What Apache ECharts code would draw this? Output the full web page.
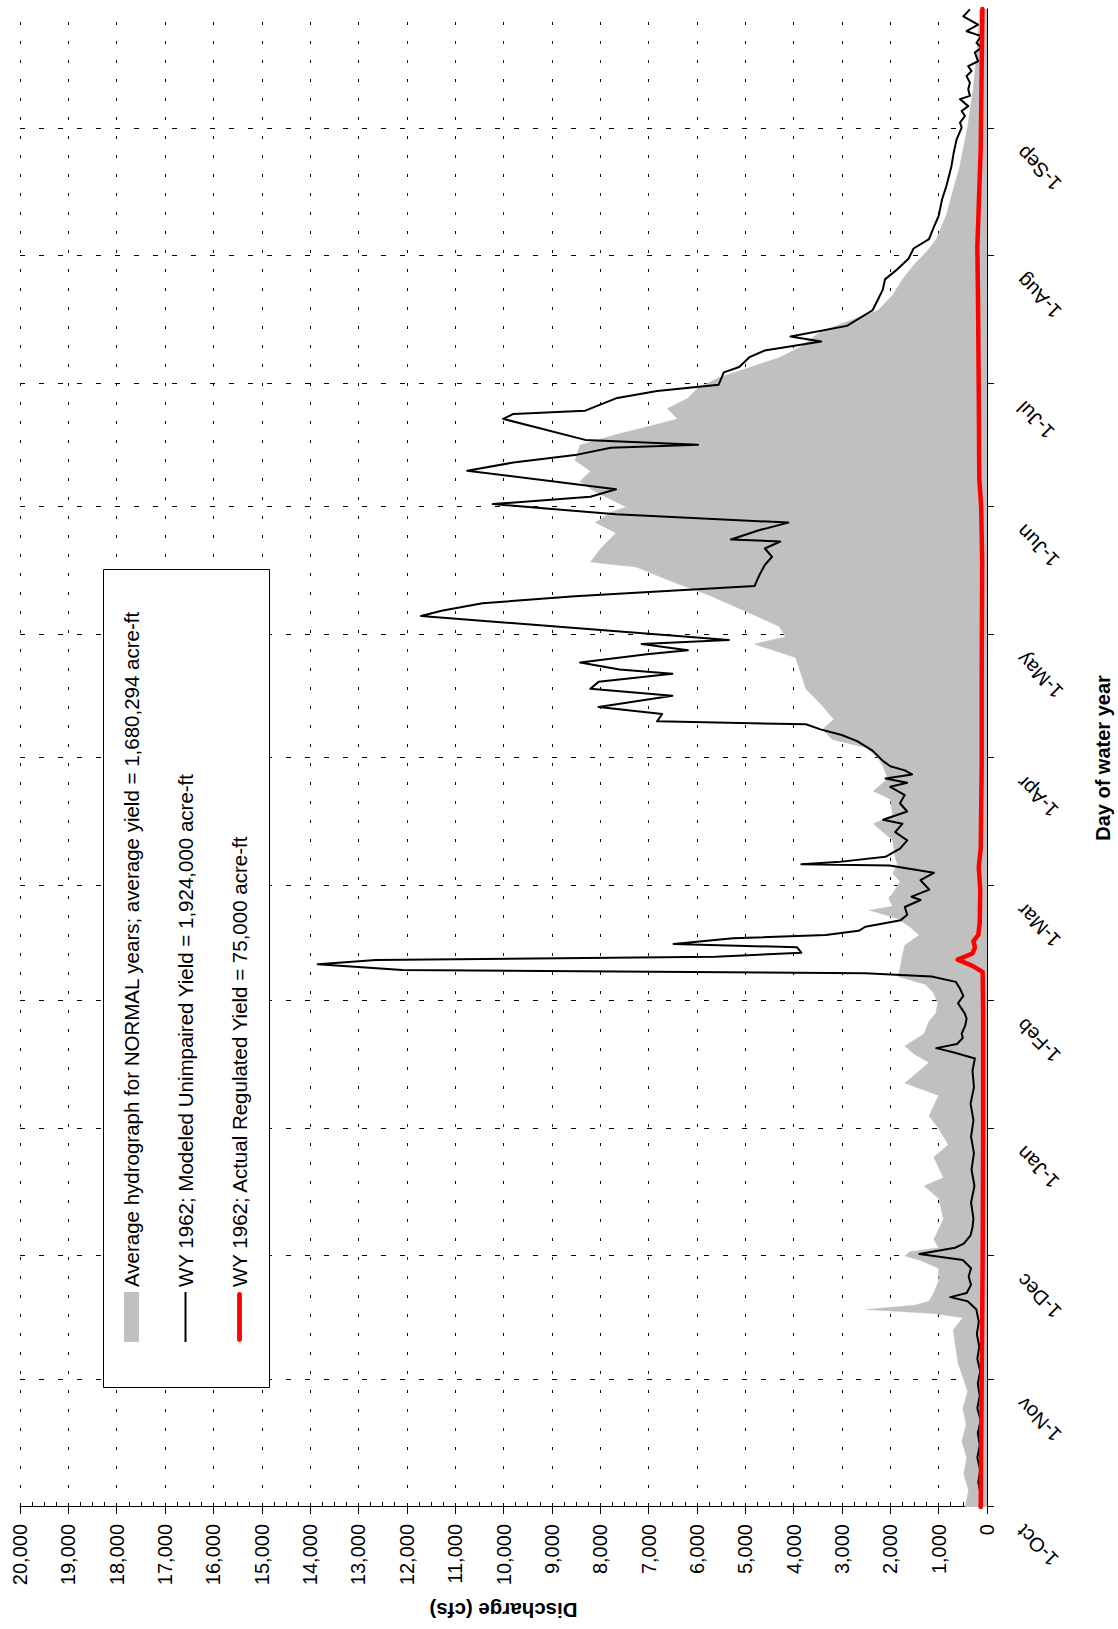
<!DOCTYPE html>
<html>
<head>
<meta charset="utf-8">
<script src="https://cdn.jsdelivr.net/npm/echarts@6/dist/echarts.min.js"></script>
<style>
html,body{margin:0;padding:0;background:#fff;}
#wrap{position:absolute;left:0;top:0;width:1118px;height:1629px;overflow:hidden;background:#fff;}
#chart{position:absolute;left:0;top:0;width:1629px;height:1118px;transform-origin:0 0;transform:translate(0px,1629px) rotate(-90deg);}
</style>
</head>
<body>
<div id="wrap"><div id="chart"></div></div>
<script>
// Month tick positions (day of water year) and labels
const monthDays = [0, 31, 61, 92, 123, 151, 182, 212, 243, 273, 304, 335];
const monthLabels = ['1-Oct', '1-Nov', '1-Dec', '1-Jan', '1-Feb', '1-Mar', '1-Apr', '1-May', '1-Jun', '1-Jul', '1-Aug', '1-Sep'];

// Average hydrograph for NORMAL years (cfs)
const avgDay = [0,4,8,12,16,20,24,28,31,35,39,43,46,47,48,49,50,52,55,58,60,61,62,63,65,70,75,78,80,85,88,92,95,100,103,105,108,110,112,115,118,120,122.4,125,127,128.9,131.4,134,136.5,139,141,143,145,146,147.8,150,152,154,156,158,162,166,168,172,174,177,180,182,184.5,186.5,188.9,191.4,195,198.8,202.6,206.4,209.7,211.4,214,217.8,221.6,225.3,228.4,229.6,232.9,236.7,239.2,241.7,243,246.7,249.2,251.7,254.3,258,260.6,263.1,264.4,266.9,269.4,271.9,274.4,276.9,279.4,281.9,285.7,290.8,294.5,298.3,302,305,308,314,320,326,335.5,345,355,364];
const avgCfs = [450,380,480,420,520,430,500,400,480,600,650,700,500,1100,2500,1500,1200,1100,1000,1000,1400,1700,1600,1000,1100,900,1000,1300,900,1100,800,1000,1200,1000,1700,1500,1200,1500,1700,1300,1200,1060,1020,1110,1280,1840,1790,1750,1700,1400,1600,1850,2430,1950,2030,1900,1800,1950,1850,1900,1950,2350,1950,2000,2350,2050,2150,2250,2500,3200,3400,3170,3430,3750,3850,3960,4810,4170,4300,5020,5760,6610,7250,8200,7990,7670,8100,7780,7460,8100,8420,8200,8520,8420,7670,6820,6400,6610,6190,5980,5550,4910,4280,3850,3430,2250,1950,1750,1500,1250,1050,840,700,560,400,280,200,150];

// WY 1962 Modeled Unimpaired (cfs)
const unDay = [0,3,6,9,12,15,18,21,24,27,30,33,36,39,42,45,48,50,51,52,54,56,58,60,61.5,63,64,66,68,70,74,78,82,86,90,94,98,102,106,109,110.5,111.5,112.5,114,115,117,118.7,120,122.4,124.2,126,127.6,128.9,129.7,130.5,131.9,132.9,133.7,134.7,136,136.8,138.2,139,140,141,142.6,143.9,145.8,147.5,148.3,150,152.3,154.1,155.9,156.2,156.7,158,160,162,164,166,167,169,171,173,175,176,177,178,179,180,181.3,183.8,186.1,187.6,188.9,190.2,190.9,192.7,194.4,197.1,198.8,200.5,202.5,203.5,205.2,207.2,208.2,209.7,210.7,216.5,217.8,219.6,221.3,222.1,223.8,226.6,228.9,230.9,232.9,234.6,235.1,237.4,239.2,241.2,243.7,245.5,247.3,251.8,253.8,255.6,257.4,258.1,259.3,264.4,265.6,266.4,269.4,271.2,272.7,275.7,277,279.4,281,283.2,284.4,287,290.8,293.3,295.8,298.3,300.3,303.3,305.8,308.1,311,313.7,317.7,321,325.8,329,332.4,335.2,336.4,338,339.2,340.4,342.1,342.9,344.5,346.1,347.7,348.9,350.1,351.3,353.4,354.6,355.8,357.4,358.6,360.2,362.2,363.9];
const unCfs = [150,130,180,140,200,150,190,130,200,150,190,140,200,160,210,170,220,400,760,420,330,380,330,500,1400,660,480,340,300,280,330,260,320,270,330,280,340,270,300,250,700,1050,620,500,525,450,422,464,600,490,560,645,1146,2515,12094,13842,12637,5618,3840,3928,6482,5250,3336,2655,2515,1785,1650,1700,1375,1560,1193,1375,1100,2015,3840,3100,2100,1800,1650,1900,1750,2150,1650,1800,1700,2000,1650,2100,1550,1700,2000,2155,2367,2685,3004,3428,3746,6824,6718,8034,6506,8204,8034,6506,7600,8416,7036,6187,7143,5338,11706,11282,10433,8522,7355,4808,4701,4595,4446,4595,4277,5296,4701,4108,7673,10221,8204,7673,10751,9796,8522,7780,5975,8310,10008,9796,8310,7673,6824,5550,5444,5126,4914,4600,3428,4065,2897,2367,2260,2155,2110,1900,1624,1518,1200,1100,1000,930,840,735,690,626,524,558,456,524,388,558,354,388,354,422,320,388,184,252,116,218,116,422,184,490,354];

// WY 1962 Actual Regulated (cfs)
const regDay = [0,30,60,90,120,130,131.5,133,134.5,136,137.5,139,142,150,155.5,160,180,200,230,243,250,270,293,306,330,364];
const regCfs = [130,110,90,80,80,90,300,607,300,250,280,180,150,140,170,130,110,110,100,120,160,170,185,200,130,95];

const yTicks = 1000;
const legendNames = [
  'Average hydrograph for NORMAL years; average yield = 1,680,294 acre-ft',
  'WY 1962; Modeled Unimpaired Yield = 1,924,000 acre-ft',
  'WY 1962; Actual Regulated Yield = 75,000 acre-ft'
];

function zip(a, b) { return a.map((d, i) => [d, b[i]]); }
const FONT = '"Liberation Sans", Arial, Helvetica, sans-serif';

const chart = echarts.init(document.getElementById('chart'), null, {renderer: 'svg', width: 1629, height: 1118});
chart.setOption({
  backgroundColor: '#ffffff',
  animation: false,
  textStyle: {fontFamily: FONT, color: '#000'},
  grid: {left: 117, right: 9, top: 20, bottom: 119, containLabel: false},
  xAxis: {
    type: 'value', min: 0, max: 364,
    name: 'Day of water year', nameLocation: 'middle', nameGap: 106,
    nameTextStyle: {fontSize: 20, fontWeight: 'bold', color: '#000', fontFamily: FONT},
    axisLine: {show: true, onZero: false, lineStyle: {color: '#000', width: 1}},
    axisTick: {show: true, length: 7, customValues: monthDays, lineStyle: {color: '#000'}},
    axisLabel: {
      show: true, rotate: 45, margin: 12, fontSize: 20, color: '#000', fontFamily: FONT,
      padding: [0, 30, 0, 0],
      customValues: monthDays,
      formatter: function (v) { const i = monthDays.indexOf(Math.round(v)); return i >= 0 ? monthLabels[i] : ''; }
    },
    splitLine: {show: true, lineStyle: {color: '#000', width: 1, type: [5, 14]}}
  },
  yAxis: [{
    type: 'value', min: 0, max: 20000, interval: yTicks,
    name: 'Discharge (cfs)', nameLocation: 'middle', nameGap: 93, nameRotate: 90,
    nameTextStyle: {fontSize: 20.5, fontWeight: 'bold', color: '#000', fontFamily: FONT},
    axisLine: {show: true, lineStyle: {color: '#000', width: 1}},
    axisTick: {show: true, length: 7, lineStyle: {color: '#000'}},
    axisLabel: {margin: 17, fontSize: 20, color: '#000', fontFamily: FONT,
      formatter: function (v) { return v.toLocaleString('en-US'); }},
    splitLine: {show: true, lineStyle: {color: '#000', width: 1, type: [3, 16]}}
  }, {
    type: 'value', min: 0, max: 20000, interval: yTicks, position: 'left',
    axisLine: {show: false},
    axisTick: {show: true, inside: true, length: 4, lineStyle: {color: '#000'}},
    minorTick: {show: true, splitNumber: 4, length: 5, lineStyle: {color: '#000'}},
    axisLabel: {show: false},
    splitLine: {show: false}
  }],
  legend: {
    orient: 'vertical', left: 287, top: 121, padding: 0, itemGap: 33,
    itemWidth: 50, itemHeight: 15, z: 20, symbolKeepAspect: true,
    textStyle: {fontSize: 20.5, color: '#000', fontFamily: FONT},
    data: [
      {name: legendNames[0], icon: 'rect', itemStyle: {color: '#c0c0c0'}},
      {name: legendNames[1], icon: 'path://M0,0H50V2H0Z', itemStyle: {color: '#000'}},
      {name: legendNames[2], icon: 'path://M2.5,0H49.5A2.5,2.5,0,0,1,49.5,5H2.5A2.5,2.5,0,0,1,2.5,0Z', itemStyle: {color: '#ff0000'}}
    ]
  },
  graphic: [{
    type: 'rect', z: 15, left: 241, top: 103,
    shape: {width: 818, height: 166},
    style: {fill: '#fff', stroke: '#000', lineWidth: 1}
  }],
  series: [{
    name: legendNames[0], type: 'line', data: zip(avgDay, avgCfs),
    symbol: 'none', z: 1, color: '#c0c0c0',
    lineStyle: {width: 0.5, color: '#c0c0c0'},
    areaStyle: {color: '#c0c0c0', opacity: 1}
  }, {
    name: legendNames[1], type: 'line', data: zip(unDay, unCfs),
    symbol: 'none', z: 3, color: '#000',
    lineStyle: {width: 2, color: '#000', join: 'round'}
  }, {
    name: legendNames[2], type: 'line', data: zip(regDay, regCfs),
    symbol: 'none', z: 4, color: '#ff0000',
    lineStyle: {width: 4.5, color: '#ff0000', cap: 'round', join: 'round'}
  }]
});
</script>
</body>
</html>
